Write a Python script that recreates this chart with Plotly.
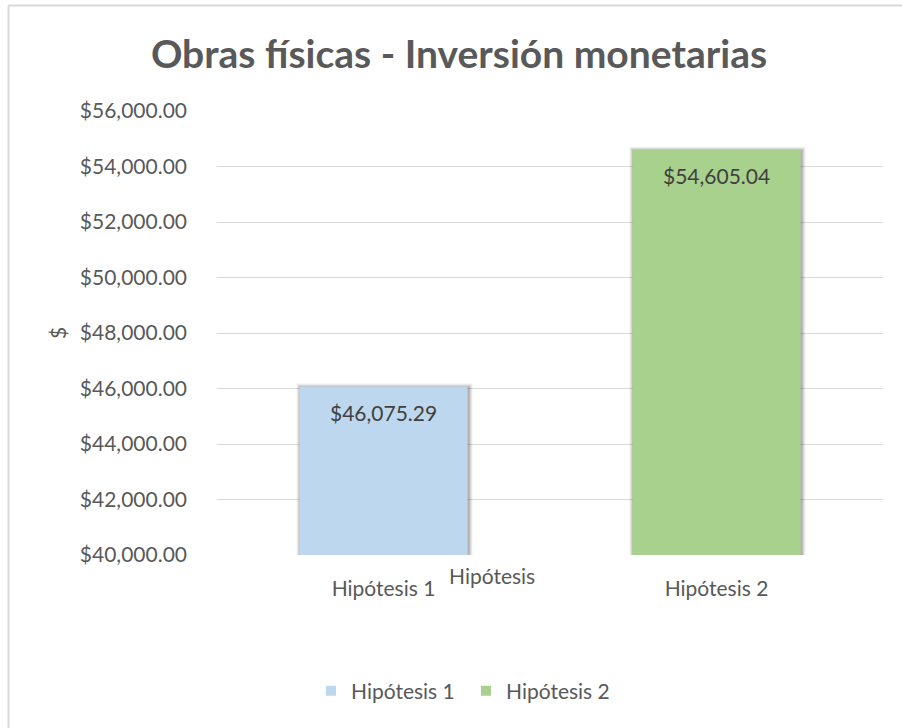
import plotly.graph_objects as go

# Chart data
categories = ["Hipótesis 1", "Hipótesis 2"]
values = [46075.29, 54605.04]
colors = ["#BDD7EE", "#A9D18E"]
y_ticks = [40000, 42000, 44000, 46000, 48000, 50000, 52000, 54000, 56000]

W, H = 902, 728
ML, MR, MT, MB = 217, 19, 111, 173
PW, PH = W - ML - MR, H - MT - MB


def px_x(px):
    return (px - ML) / PW


def px_y(py):
    return (H - MB - py) / PH


TEXT = "#595959"
FONT = "Lato"
BAR_W = 0.505

fig = go.Figure()
for cat, val, col in zip(categories, values, colors):
    fig.add_trace(go.Bar(
        x=[cat], y=[val], name=cat, marker=dict(color=col, line=dict(width=0)),
        width=BAR_W, showlegend=False,
    ))
# legend entries with small square swatches
for cat, col in zip(categories, colors):
    fig.add_trace(go.Scatter(
        x=[None], y=[None], mode="markers", name=cat,
        marker=dict(symbol="square", size=10, color=col), showlegend=True,
    ))

shapes = []
# soft drop shadow behind each bar
half = BAR_W * (PW / 2) / 2
for i, val in enumerate(values):
    bar_h = (val - y_ticks[0]) / (y_ticks[-1] - y_ticks[0]) * PH
    for k, op in [(4, 0.05), (3, 0.07), (2, 0.09), (1, 0.12)]:
        shapes.append(dict(
            type="rect", layer="between",
            xref="x", yref="y", xsizemode="pixel", ysizemode="pixel",
            xanchor=i, yanchor=val,
            x0=-half - k + 1, x1=half + k + 1,
            y0=k - 1, y1=-bar_h - 1,
            fillcolor=f"rgba(0,0,0,{op})", line=dict(width=0),
        ))

# chart frame
shapes.append(dict(type="line", xref="paper", yref="paper",
                   x0=px_x(8.5), x1=px_x(910), y0=px_y(5.5), y1=px_y(5.5),
                   line=dict(color="#D9D9D9", width=2)))
shapes.append(dict(type="line", xref="paper", yref="paper",
                   x0=px_x(8.5), x1=px_x(8.5), y0=px_y(5.5), y1=px_y(740),
                   line=dict(color="#D9D9D9", width=2)))

annotations = []
for cat, val in zip(categories, values):
    annotations.append(dict(
        x=cat, y=val, xref="x", yref="y", text=f"${val:,.2f}",
        showarrow=False, xanchor="center", yanchor="middle", yshift=-26,
        font=dict(family=FONT, size=21, color="#404040"),
    ))
# axis titles
annotations.append(dict(x=px_x(57), y=px_y(333), xref="paper", yref="paper",
                        text="$", textangle=-90, showarrow=False,
                        xanchor="center", yanchor="middle",
                        font=dict(family=FONT, size=21, color=TEXT)))
annotations.append(dict(x=px_x(492), y=px_y(575), xref="paper", yref="paper",
                        text="Hipótesis", showarrow=False,
                        xanchor="center", yanchor="middle",
                        font=dict(family=FONT, size=21, color=TEXT)))

fig.update_layout(
    width=W, height=H,
    margin=dict(l=ML, r=MR, t=MT, b=MB),
    paper_bgcolor="white", plot_bgcolor="white",
    barmode="overlay",
    title=dict(text="<b>Obras físicas - Inversión monetarias</b>",
               x=459 / W, xanchor="center", y=1 - 54 / H, yanchor="middle",
               font=dict(family=FONT, size=39, color=TEXT)),
    font=dict(family=FONT, size=21, color=TEXT),
    xaxis=dict(type="category", showgrid=False, showline=False, zeroline=False,
               ticks="", ticklabelstandoff=19,
               tickfont=dict(family=FONT, size=21, color=TEXT)),
    yaxis=dict(range=[y_ticks[0], y_ticks[-1]], tickvals=y_ticks,
               tickformat="$,.2f", showgrid=True, gridcolor="#D9D9D9",
               gridwidth=1.3, zeroline=False, showline=False, ticks="",
               ticklabelstandoff=29,
               tickfont=dict(family=FONT, size=21, color=TEXT)),
    legend=dict(orientation="h", x=px_x(311), xanchor="left",
                y=px_y(691), yanchor="middle",
                font=dict(family=FONT, size=21, color=TEXT),
                itemwidth=30, entrywidth=110, tracegroupgap=0),
    shapes=shapes,
    annotations=annotations,
)

fig.write_html("out.html")
